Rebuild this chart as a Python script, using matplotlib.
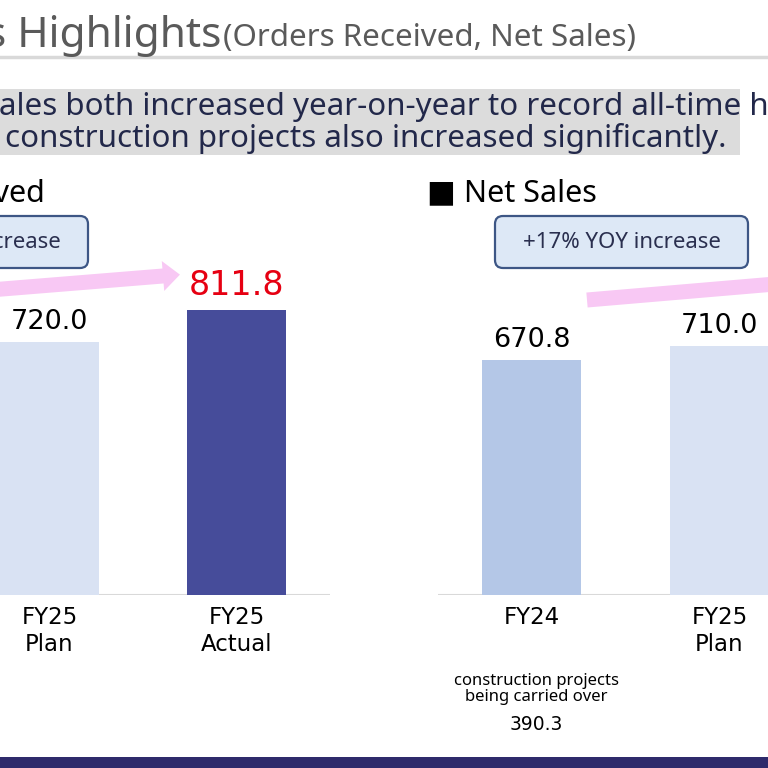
import matplotlib
matplotlib.use("Agg")
import matplotlib.pyplot as plt
from matplotlib.patches import FancyBboxPatch, Rectangle, FancyArrow
from matplotlib.transforms import ScaledTranslation

plt.rcParams["font.family"] = ["Noto Sans", "DejaVu Sans"]
NUM_FONT = ["DejaVu Sans"]

# data (only the bars that are visible in the crop)
orders_labels = ["FY25\nPlan", "FY25\nActual"]
orders_values = [720.0, 811.8]
sales_labels = ["FY24", "FY25\nPlan"]
sales_values = [670.8, 710.0]
carried_over = 390.3

W = H = 768
BAR_TOP = 200      # pixel row of axes top
BASE = 595         # pixel row of the baseline
PX_PER_UNIT = 0.351


def frac_box(left, width):
    # axes rectangle in figure fraction from pixel numbers
    return [left / W, (H - BASE) / H, width / W, (BASE - BAR_TOP) / H]


fig = plt.figure(figsize=(7.68, 7.68), dpi=100)
fig.patch.set_facecolor("white")

# overlay for slide decorations, pixel coordinates
deco = fig.add_axes([0, 0, 1, 1], zorder=0)
deco.set_xlim(0, W)
deco.set_ylim(H, 0)
deco.axis("off")

# title
deco.text(221, 47, "Results Highlights", fontsize=30.5, color="#5a5a5a",
          ha="right", va="baseline")
deco.text(223, 46, "(Orders Received, Net Sales)", fontsize=22.5, color="#5a5a5a",
          ha="left", va="baseline")
deco.plot([0, W], [57, 57], color="#d9d9d9", lw=2.5)

# grey banner
deco.add_patch(Rectangle((-20, 89), 760, 66, color="#dcdcdc", lw=0))
deco.text(-1, 107, "ales both increased year-on-year to record all-time highs.",
          fontsize=22.5, color="#22284a", ha="left", va="center")
deco.text(5, 138, "construction projects also increased significantly.",
          fontsize=22.5, color="#22284a", ha="left", va="center")

# section headers
deco.text(45, 193, "■ Orders Received", fontsize=22, color="black",
          ha="right", va="center")
deco.text(427, 193, "■ Net Sales", fontsize=22, color="black",
          ha="left", va="center")

# callout boxes
box_fill = "#dde8f6"
box_edge = "#3d5685"
for x0, label in [(-165, "+13% YOY increase"), (495, "+17% YOY increase")]:
    deco.add_patch(FancyBboxPatch((x0, 216), 253, 52,
                                  boxstyle="round,pad=0,rounding_size=8",
                                  fc=box_fill, ec=box_edge, lw=1.6))
    deco.text(x0 + 127, 243, label, fontsize=16, color="#2a2f4f",
              ha="center", va="center")

# pink arrows
pink = "#f8c8f4"
deco.add_patch(FancyArrow(-10, 290, 173, -14, width=15, head_width=30,
                          head_length=17, color=pink, lw=0))
deco.add_patch(FancyArrow(587, 300, 200, -17, width=15, head_width=30,
                          head_length=17, color=pink, lw=0))

# bottom navy strip
deco.add_patch(Rectangle((0, 757), W, 11, color="#2e2a6b", lw=0))

ymax = (BASE - BAR_TOP) / PX_PER_UNIT


def style(ax):
    ax.set_facecolor("none")
    ax.set_xlim(-0.5, 2.5)
    ax.set_ylim(0, ymax)
    for s in ax.spines.values():
        s.set_visible(False)
    ax.set_yticks([])
    ax.axhline(0, color="#d9d9d9", lw=1.5, zorder=1)
    ax.tick_params(axis="x", length=0, pad=8, labelsize=16.5)


def lift(ax, pts):
    return ax.transData + ScaledTranslation(0, pts / 72, fig.dpi_scale_trans)


# orders received: FY24 sits off the left edge, so visible bars are at 1 and 2
ax1 = fig.add_axes(frac_box(-231, 561), zorder=2)
style(ax1)
pos1 = [i + 1 for i in range(len(orders_values))]
ax1.bar(pos1, orders_values, width=0.53, color=["#d9e2f3", "#464c9a"], zorder=2)
ax1.set_xticks(pos1, orders_labels, family=NUM_FONT)
ax1.text(pos1[0], orders_values[0], f"{orders_values[0]:.1f}", fontsize=19.5,
         family=NUM_FONT, ha="center", va="bottom", color="black",
         transform=lift(ax1, 5))
ax1.text(pos1[1], orders_values[1], f"{orders_values[1]:.1f}", fontsize=24,
         family=NUM_FONT, ha="center", va="bottom", color="#e60012",
         transform=lift(ax1, 6))

# net sales
ax2 = fig.add_axes(frac_box(437.5, 564), zorder=2)
style(ax2)
pos2 = list(range(len(sales_values)))
ax2.bar(pos2, sales_values, width=0.527, color=["#b4c7e7", "#d9e2f3"], zorder=2)
ax2.set_xticks(pos2, sales_labels, family=NUM_FONT)
for x, v in zip(pos2, sales_values):
    ax2.text(x, v, f"{v:.1f}", fontsize=19.5, family=NUM_FONT, ha="center",
             va="bottom", color="black", transform=lift(ax2, 5))

# note under FY24
deco.text(536, 689, "construction projects\nbeing carried over", fontsize=12,
          ha="center", va="center", linespacing=0.95, color="black")
deco.text(536, 724, f"{carried_over:.1f}", fontsize=13.5, family=NUM_FONT,
          ha="center", va="center", color="black")

fig.savefig("out.png", dpi=100)
